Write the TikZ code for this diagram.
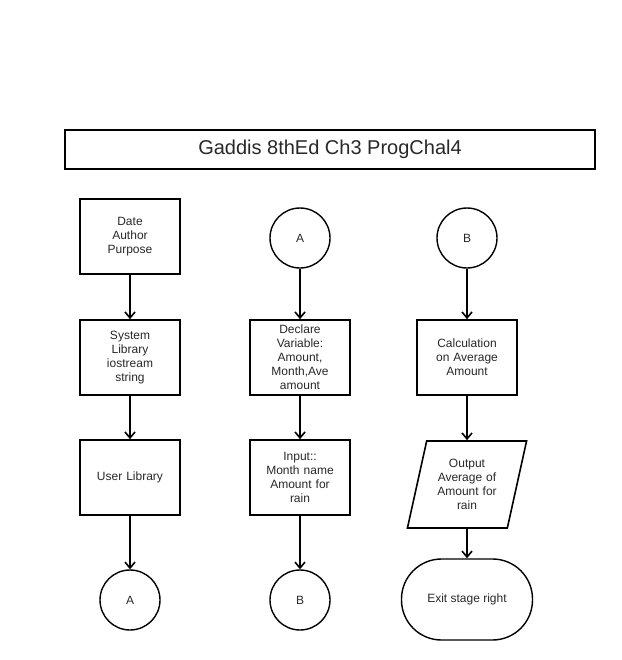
\documentclass[tikz,border=0pt]{standalone}
\usepackage{fontspec}
\setmainfont{Liberation Sans}
\definecolor{inkgray}{RGB}{40, 40, 40}
\usetikzlibrary{shapes.geometric, arrows.meta, positioning}

\tikzset{
  procbox/.style={draw, line width=1.6pt, minimum width=100pt, minimum height=75pt, text width=92pt, align=center, font=\fontsize{12}{14}\selectfont, text=inkgray},
  connector/.style={draw, circle, line width=1.4pt, minimum size=60pt, font=\fontsize{12}{14}\selectfont, text=inkgray},
  flowarrow/.style={line width=1.6pt, -{Straight Barb[length=6pt, width=10pt, line width=1.6pt]}}
}

\begin{document}
\begin{tikzpicture}[x=1pt, y=-1pt]
  \useasboundingbox (0,0) rectangle (621,660);

  % Title
  \node[draw, line width=1.6pt, minimum width=530pt, minimum height=39pt, font=\fontsize{20}{22}\selectfont, text=inkgray] (title) at (330, 149.5) {Gaddis 8thEd Ch3 ProgChal4};

  % Left column
  \node[procbox] (info) at (130, 236.5) {Date\\Author\\Purpose};
  \node[procbox] (syslib) at (130, 357.5) {System\\Library\\iostream\\string};
  \node[procbox] (userlib) at (130, 477.5) {User Library};
  \node[connector] (outA) at (130, 600) {A};

  % Middle column
  \node[connector] (inA) at (300, 238) {A};
  \node[procbox] (declare) at (300, 357.5) {Declare\\Variable:\\Amount,\\Month,Ave\\amount};
  \node[procbox] (input) at (300, 477.5) {Input::\\Month name\\Amount for\\rain};
  \node[connector] (outB) at (300, 600) {B};

  % Right column
  \node[connector] (inB) at (467, 238) {B};
  \node[procbox] (calc) at (467, 357.5) {Calculation\\on Average\\Amount};
  \node[draw, trapezium, trapezium left angle=71.4, trapezium right angle=108.6, trapezium stretches body, line width=1.6pt, minimum width=116pt, minimum height=87pt, text width=74pt, align=center, font=\fontsize{12}{14}\selectfont, text=inkgray] (output) at (467, 484.5) {Output\\Average of\\Amount for\\rain};
  \node[draw, rounded corners=40pt, line width=1.4pt, minimum width=131pt, minimum height=81pt, font=\fontsize{12}{14}\selectfont, text=inkgray] (exit) at (467, 599.5) {Exit stage right};

  % Arrows
  \draw[flowarrow] (info) -- (syslib);
  \draw[flowarrow] (syslib) -- (userlib);
  \draw[flowarrow] (userlib) -- (outA);
  \draw[flowarrow] (inA) -- (declare);
  \draw[flowarrow] (declare) -- (input);
  \draw[flowarrow] (input) -- (outB);
  \draw[flowarrow] (inB) -- (calc);
  \draw[flowarrow] (calc) -- (output);
  \draw[flowarrow] (output) -- (exit);
\end{tikzpicture}
\end{document}
